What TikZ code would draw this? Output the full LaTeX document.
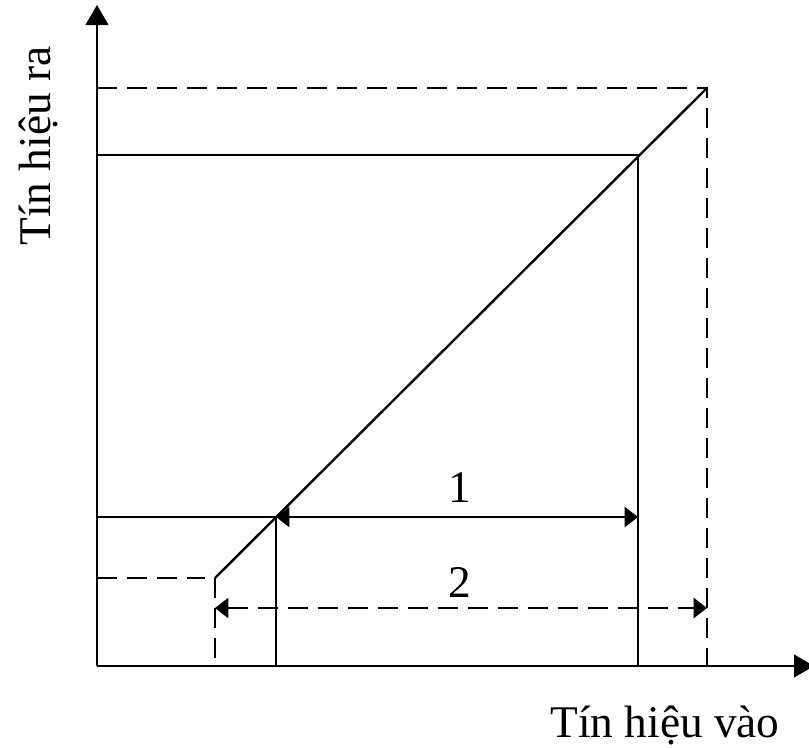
\documentclass[tikz,border=0pt]{standalone}
\usepackage{fontspec}
\setmainfont{Liberation Serif}
\usetikzlibrary{arrows.meta}
\begin{document}
\begin{tikzpicture}[x=0.75pt,y=-0.75pt,
  ln/.style={line width=1.8pt},
  dsh/.style={line width=1.8pt,dash pattern=on 15pt off 7.5pt},
  axis/.style={line width=1.8pt,-{Triangle[length=15pt,width=17pt]}},
  dimarr/.style={{Triangle[length=10pt,width=15pt]}-{Triangle[length=10pt,width=15pt]}},
  lbl/.style={font=\fontsize{34}{40}\selectfont,anchor=base,inner sep=0pt}]
\useasboundingbox (0,0) rectangle (809,747);
% key points
\coordinate (O) at (97,666);
\coordinate (Ytop) at (97,5);
\coordinate (Xend) at (814,666);
\coordinate (A) at (215,578);
\coordinate (B) at (276,517);
\coordinate (C) at (638,155);
\coordinate (D) at (707,88);
\coordinate (Ay) at (97,578);
\coordinate (Ax) at (215,666);
\coordinate (By) at (97,517);
\coordinate (Bx) at (276,666);
\coordinate (Cy) at (97,155);
\coordinate (Cx) at (638,666);
\coordinate (Dy) at (97,88);
\coordinate (Dx) at (707,666);
\coordinate (Bd) at (638,517);
\coordinate (A2) at (215,608);
\coordinate (D2) at (707,608);
% axes
\draw[axis] (O) -- (Ytop);
\draw[axis] (O) -- (Xend);
% characteristic
\draw[ln] (A) -- (D);
% solid lines
\draw[ln] (By) -- (Bd);
\draw[ln] (B) -- (Bx);
\draw[ln] (Cy) -- (C) -- (Cx);
% dashed lines
\draw[dsh] (Ay) -- (205,578);
\draw[dsh] (A) -- (Ax);
\draw[dsh] (Dy) -- (D) -- (Dx);
% dimension arrows
\draw[ln,dimarr] (B) -- (Bd);
\draw[dsh,dimarr] (A2) -- (D2);
% labels
\node[lbl] (n1) at (460,502) {1};
\node[lbl] (n2) at (460,597) {2};
\node[lbl,rotate=90] (ylab) at (50,146) {Tín hiệu ra};
\node[lbl] (xlab) at (665,737) {Tín hiệu vào};
\end{tikzpicture}
\end{document}
